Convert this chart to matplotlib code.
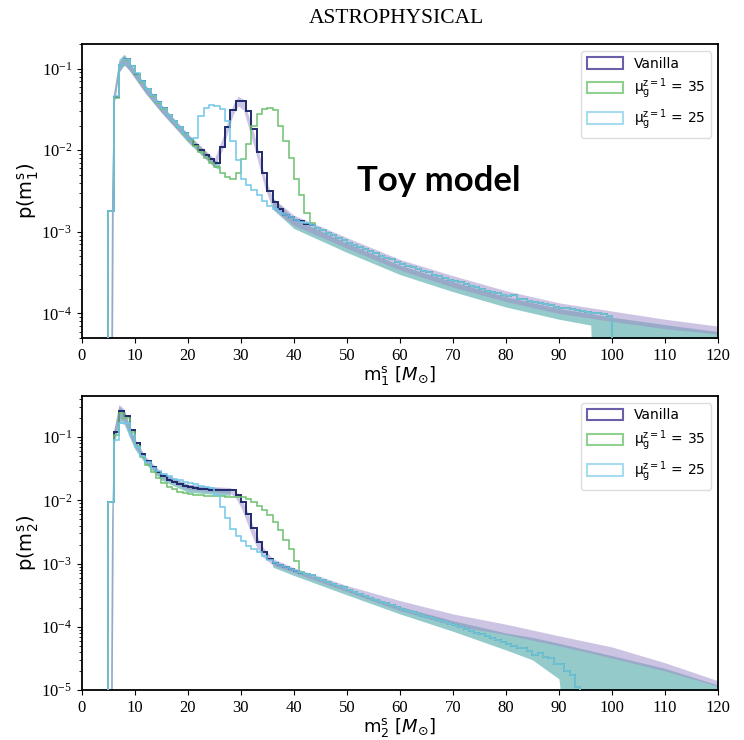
import numpy as np
import matplotlib.pyplot as plt
from matplotlib.patches import Patch

plt.rcParams['font.family'] = 'Liberation Serif'
plt.rcParams['mathtext.fontset'] = 'dejavusans'

# ---- m1 histograms (1 Msun bins) ----
m1_start = 5
vanilla_m1_head = [0.0018, 0.045, 0.11, 0.13, 0.108, 0.087, 0.070, 0.057, 0.047, 0.039,
                   0.033, 0.027, 0.023, 0.0195, 0.0163, 0.0138, 0.0117, 0.0100, 0.0087, 0.0077,
                   0.0070, 0.011, 0.019, 0.031, 0.040, 0.040, 0.030, 0.018, 0.0095, 0.0052,
                   0.0032, 0.0023, 0.0019, 0.0016, 0.0015, 0.00141, 0.00135, 0.00126, 0.00120]
green_m1_head = [0.0018, 0.044, 0.11, 0.128, 0.107, 0.086, 0.069, 0.056, 0.046, 0.038,
                 0.032, 0.027, 0.0225, 0.019, 0.016, 0.0135, 0.0112, 0.0094, 0.0080, 0.0070,
                 0.0062, 0.0052, 0.0047, 0.0045, 0.0052, 0.0078, 0.012, 0.020, 0.028, 0.032,
                 0.033, 0.031, 0.020, 0.013, 0.008, 0.0045, 0.0028, 0.0017, 0.0013]
cyan_m1_head = [0.0018, 0.046, 0.112, 0.132, 0.109, 0.088, 0.071, 0.057, 0.047, 0.039,
                0.033, 0.027, 0.023, 0.0195, 0.0163, 0.0138, 0.014, 0.026, 0.033, 0.036,
                0.035, 0.032, 0.023, 0.013, 0.0075, 0.0045, 0.0037, 0.0033, 0.0028, 0.0024,
                0.0021, 0.0019, 0.0017, 0.0016, 0.0015, 0.0014, 0.00133, 0.00127, 0.0012]
tail_m1 = [1.12e-3, 1.05e-3, 9.8e-4, 9.2e-4, 8.5e-4, 8.0e-4, 7.4e-4, 6.9e-4, 6.6e-4, 6.2e-4,
           5.8e-4, 5.5e-4, 5.1e-4, 4.8e-4, 4.6e-4, 4.3e-4, 4.0e-4, 3.8e-4, 3.7e-4, 3.5e-4,
           3.3e-4, 3.2e-4, 3.0e-4, 2.9e-4, 2.75e-4, 2.6e-4, 2.5e-4, 2.45e-4, 2.3e-4, 2.2e-4,
           2.1e-4, 2.0e-4, 1.9e-4, 1.85e-4, 1.78e-4, 1.7e-4, 1.62e-4, 1.66e-4, 1.5e-4, 1.52e-4,
           1.41e-4, 1.38e-4, 1.33e-4, 1.3e-4, 1.26e-4, 1.21e-4, 1.17e-4, 1.16e-4, 1.12e-4, 1.1e-4,
           1.07e-4, 1.05e-4, 1.02e-4, 1.0e-4, 9.8e-5, 9.3e-5]

# ---- m2 histograms ----
m2_start = 5
vanilla_m2_head = [0.0093, 0.12, 0.26, 0.22, 0.13, 0.08, 0.055, 0.042, 0.034, 0.028,
                   0.024, 0.021, 0.0195, 0.018, 0.017, 0.0163, 0.0157, 0.0152, 0.015, 0.0148,
                   0.0147, 0.0146, 0.0145, 0.0145, 0.012, 0.0093, 0.0062, 0.0036, 0.0022, 0.0015,
                   0.0012, 0.00102, 0.00095, 0.00088, 0.00082, 0.00077, 0.00072]
green_m2_head = [0.0093, 0.11, 0.24, 0.2, 0.12, 0.072, 0.048, 0.036, 0.028, 0.023,
                 0.019, 0.0165, 0.015, 0.0138, 0.013, 0.0125, 0.0122, 0.012, 0.0118, 0.0117,
                 0.0116, 0.0116, 0.0115, 0.0115, 0.0115, 0.0115, 0.0105, 0.0095, 0.0082, 0.007,
                 0.0058, 0.0046, 0.0034, 0.0024, 0.0017, 0.0011, 0.00074]
cyan_m2_head = [0.0093, 0.09, 0.17, 0.17, 0.11, 0.07, 0.05, 0.04, 0.033, 0.029,
                0.026, 0.024, 0.022, 0.021, 0.0198, 0.0188, 0.018, 0.0172, 0.0165, 0.0155,
                0.012, 0.008, 0.0052, 0.0035, 0.0027, 0.0023, 0.0019, 0.0017, 0.0015, 0.0013,
                0.00115, 0.00102, 0.00094, 0.00087, 0.00081, 0.00076, 0.00071]
tail_m2 = [6.9e-4, 6.5e-4, 6.0e-4, 5.6e-4, 5.2e-4, 4.8e-4, 4.5e-4, 4.2e-4, 3.8e-4, 3.5e-4,
           3.3e-4, 3.1e-4, 2.9e-4, 2.7e-4, 2.5e-4, 2.35e-4, 2.2e-4, 2.05e-4, 1.9e-4, 1.78e-4,
           1.7e-4, 1.58e-4, 1.5e-4, 1.41e-4, 1.35e-4, 1.26e-4, 1.2e-4, 1.12e-4, 1.07e-4, 1.0e-4,
           9.3e-5, 8.7e-5, 8.1e-5, 7.6e-5, 7.1e-5, 6.6e-5, 6.2e-5, 5.8e-5, 5.4e-5, 5.0e-5,
           4.7e-5, 4.6e-5, 4.1e-5, 3.6e-5, 3.8e-5, 3.3e-5, 3.2e-5, 2.6e-5, 2.6e-5, 2.0e-5,
           1.7e-5, 1.1e-5, 6e-6]

# ---- posterior bands ----
purple_x1 = [5.3, 5.6, 6, 7, 8, 9, 10, 12, 15, 20, 25, 26.5, 28.5, 29.5, 30.5, 32.5, 34.5, 36,
             40, 50, 60, 70, 80, 90, 100, 110, 120]
purple_hi1 = [1e-7, 0.003, 0.05, 0.12, 0.145, 0.12, 0.095, 0.063, 0.036, 0.016, 0.0078, 0.014,
              0.036, 0.046, 0.042, 0.016, 0.0048, 0.0026, 0.0016, 8.5e-4, 4.6e-4, 2.9e-4,
              1.9e-4, 1.35e-4, 1.07e-4, 8.5e-5, 7e-5]
purple_lo1 = [1e-7, 1e-7, 0.035, 0.09, 0.115, 0.095, 0.077, 0.05, 0.029, 0.013, 0.0062, 0.01,
              0.027, 0.035, 0.031, 0.011, 0.0035, 0.0019, 0.0012, 6.3e-4, 3.4e-4, 2.1e-4,
              1.4e-4, 1.0e-4, 8e-5, 6.5e-5, 5.6e-5]
teal_x1a = [5.3, 5.6, 6, 7, 8, 9, 10, 12, 15, 20, 25, 26]
teal_hi1a = [1e-7, 0.003, 0.05, 0.13, 0.15, 0.12, 0.096, 0.062, 0.036, 0.0155, 0.0076, 0.0072]
teal_lo1a = [1e-7, 1e-7, 0.033, 0.09, 0.11, 0.094, 0.076, 0.05, 0.029, 0.0125, 0.0062, 0.0058]
teal_x1b = [36, 40, 50, 60, 70, 80, 90, 96, 97.5, 100, 110, 120]
teal_hi1b = [2.6e-3, 1.45e-3, 7.3e-4, 3.9e-4, 2.45e-4, 1.6e-4, 1.15e-4, 1.0e-4, 9.6e-5, 9e-5,
             7.3e-5, 6e-5]
teal_lo1b = [1.9e-3, 1.1e-3, 5.6e-4, 3.0e-4, 1.85e-4, 1.2e-4, 8.5e-5, 7.2e-5, 1e-7, 1e-7,
             1e-7, 1e-7]

purple_x2 = [5.3, 5.6, 6, 7, 8, 9, 10, 12, 15, 20, 25, 28, 29, 30, 31, 32, 33, 34, 36, 40,
             50, 60, 70, 80, 90, 100, 110, 120]
purple_hi2 = [1e-7, 0.004, 0.13, 0.33, 0.28, 0.16, 0.095, 0.05, 0.028, 0.018, 0.0165, 0.016,
              0.014, 0.011, 0.0075, 0.0046, 0.0028, 0.0019, 0.0012, 8.6e-4, 4.5e-4, 2.6e-4,
              1.6e-4, 1.1e-4, 7.2e-5, 4.8e-5, 2.7e-5, 1.4e-5]
purple_lo2 = [1e-7, 1e-7, 0.08, 0.2, 0.18, 0.11, 0.07, 0.04, 0.023, 0.015, 0.0135, 0.013,
              0.011, 0.0078, 0.0048, 0.0029, 0.0018, 0.0013, 9.5e-4, 7.2e-4, 3.6e-4, 1.8e-4,
              1.05e-4, 7.5e-5, 5e-5, 3.2e-5, 2e-5, 1.15e-5]
teal_x2a = [5.3, 5.6, 6, 7, 8, 9, 10, 12, 15, 20, 25, 28]
teal_hi2a = [1e-7, 0.004, 0.12, 0.31, 0.26, 0.15, 0.09, 0.047, 0.027, 0.018, 0.016, 0.015]
teal_lo2a = [1e-7, 1e-7, 0.07, 0.17, 0.16, 0.1, 0.065, 0.038, 0.021, 0.0135, 0.0125, 0.012]
teal_x2b = [36, 40, 50, 60, 70, 80, 85, 90, 93, 100, 110, 120]
teal_hi2b = [1.1e-3, 8.2e-4, 4.0e-4, 2.1e-4, 1.25e-4, 8e-5, 6.8e-5, 5.5e-5, 4.8e-5, 3.5e-5,
             2.2e-5, 1.2e-5]
teal_lo2b = [8.8e-4, 6.5e-4, 3.2e-4, 1.6e-4, 8.5e-5, 4.3e-5, 3.0e-5, 1.5e-5, 1e-7, 1e-7,
             1e-7, 1e-7]

c_van = '#1f2a6b'
c_35 = '#6cc070'
c_25 = '#72c8ea'
c_purple = '#9d8bc8'
c_teal = '#4fa8a8'
labels = ['Vanilla', r'μ$_\mathregular{g}^\mathregular{z=1}$ = 35', r'μ$_\mathregular{g}^\mathregular{z=1}$ = 25']

fig = plt.figure(figsize=(7.44, 7.40), dpi=100)
ax1 = fig.add_axes([0.110, 0.5432, 0.855, 0.3973])
ax2 = fig.add_axes([0.110, 0.0676, 0.855, 0.3973])


def draw(ax, start, heads, tail, bands, ylim, sub):
    for x, lo, hi, col, a in bands:
        ax.fill_between(x, lo, hi, color=col, alpha=a, lw=0, zorder=1)
    for head, col, lw in zip(heads, [c_van, c_35, c_25], [1.4, 1.1, 1.1]):
        vals = np.array(head + tail)
        edges = start + np.arange(len(vals) + 1)
        ax.stairs(vals, edges, baseline=1e-8, color=col, lw=lw, zorder=3)
    ax.set_yscale('log')
    ax.set_xlim(0, 120)
    ax.set_ylim(*ylim)
    ax.set_xticks(np.arange(0, 121, 10))
    ax.tick_params(labelsize=12)
    for s in ax.spines.values():
        s.set_linewidth(1.3)
    ax.set_xlabel(r'm$_{\mathregular{%s}}^{\mathregular{s}}$ [$M_{\odot}$]' % sub,
                  fontsize=13, family='DejaVu Sans', labelpad=0)
    ax.set_ylabel(r'p(m$_{\mathregular{%s}}^{\mathregular{s}}$)' % sub,
                  fontsize=14, family='DejaVu Sans', labelpad=0)
    handles = [Patch(facecolor='white', edgecolor=e, lw=1.5)
               for e in ['#6a5fa8', '#8fd28f', '#a7dcee']]
    ax.legend(handles, labels, loc='upper right', prop={'family': 'DejaVu Sans', 'size': 10},
              handlelength=2.6, handleheight=0.9, borderaxespad=0.5, framealpha=1,
              edgecolor='#dddddd', labelspacing=0.45)


draw(ax1, m1_start, [vanilla_m1_head, green_m1_head, cyan_m1_head], tail_m1,
     [(teal_x1a, teal_lo1a, teal_hi1a, c_teal, 0.6),
      (teal_x1b, teal_lo1b, teal_hi1b, c_teal, 0.6),
      (purple_x1, purple_lo1, purple_hi1, c_purple, 0.5)],
     (5e-5, 0.2), '1')
draw(ax2, m2_start, [vanilla_m2_head, green_m2_head, cyan_m2_head], tail_m2,
     [(teal_x2a, teal_lo2a, teal_hi2a, c_teal, 0.6),
      (teal_x2b, teal_lo2b, teal_hi2b, c_teal, 0.6),
      (purple_x2, purple_lo2, purple_hi2, c_purple, 0.5)],
     (1e-5, 0.45), '2')

fig.text(0.533, 0.975, 'ASTROPHYSICAL', ha='center', va='center', fontsize=15.5)
fig.text(0.59, 0.755, 'Toy model', ha='center', va='center', fontsize=25,
         fontweight='bold', family='Lato')

fig.savefig('out.png', dpi=100)
